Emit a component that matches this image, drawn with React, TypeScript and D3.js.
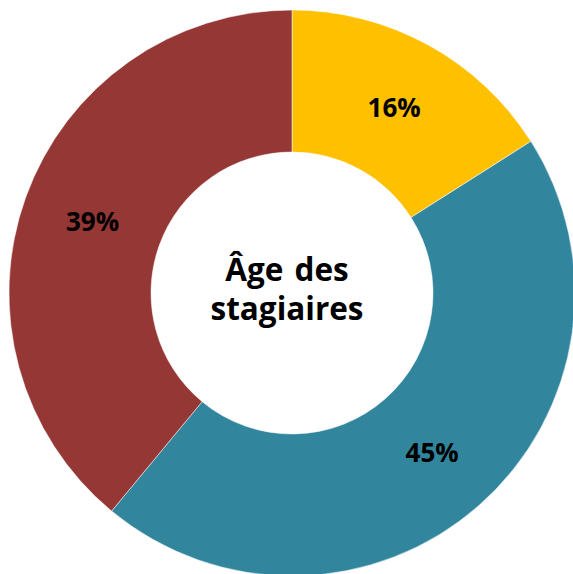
import React from "react";
import * as d3 from "d3";

const categories = ["Groupe 1", "Groupe 2", "Groupe 3"];
const values = [16, 45, 39];
const labels = ["16%", "45%", "39%"];
const colors = ["#FFC000", "#31859C", "#953735"];
const titleLines = ["Âge des", "stagiaires"];

export default function App() {
  const W = 573, H = 574;
  const cx = 292, cy = 293;
  const outerR = 283, innerR = 141;
  const pie = d3.pie<number>().sort(null).value((d) => d)(values);
  const arc = d3.arc<d3.PieArcDatum<number>>().innerRadius(innerR).outerRadius(outerR);
  const labelArc = d3.arc<d3.PieArcDatum<number>>().innerRadius(212).outerRadius(212);
  const font = "'Open Sans', 'Noto Sans', sans-serif";
  return (
    <svg width={W} height={H} style={{ position: "absolute", left: 0, top: 0, background: "#fff" }}>
      <g transform={`translate(${cx},${cy})`}>
        {pie.map((p, i) => (
          <path key={categories[i]} d={arc(p) || ""} fill={colors[i]} stroke="#ffffff" strokeOpacity={0.5} strokeWidth={1} />
        ))}
        {pie.map((p, i) => {
          const [x, y] = labelArc.centroid(p);
          return (
            <text key={"l" + i} x={x} y={y} textAnchor="middle" dominantBaseline="central"
              fontFamily={font} fontWeight={700} fontSize={26} fill="#000">
              {labels[i]}
            </text>
          );
        })}
        {titleLines.map((t, i) => (
          <text key={"t" + i} x={-5} y={-12 + i * 39} textAnchor="middle"
            fontFamily={font} fontWeight={700} fontSize={31.5} wordSpacing={3} fill="#000">
            {t}
          </text>
        ))}
      </g>
    </svg>
  );
}
